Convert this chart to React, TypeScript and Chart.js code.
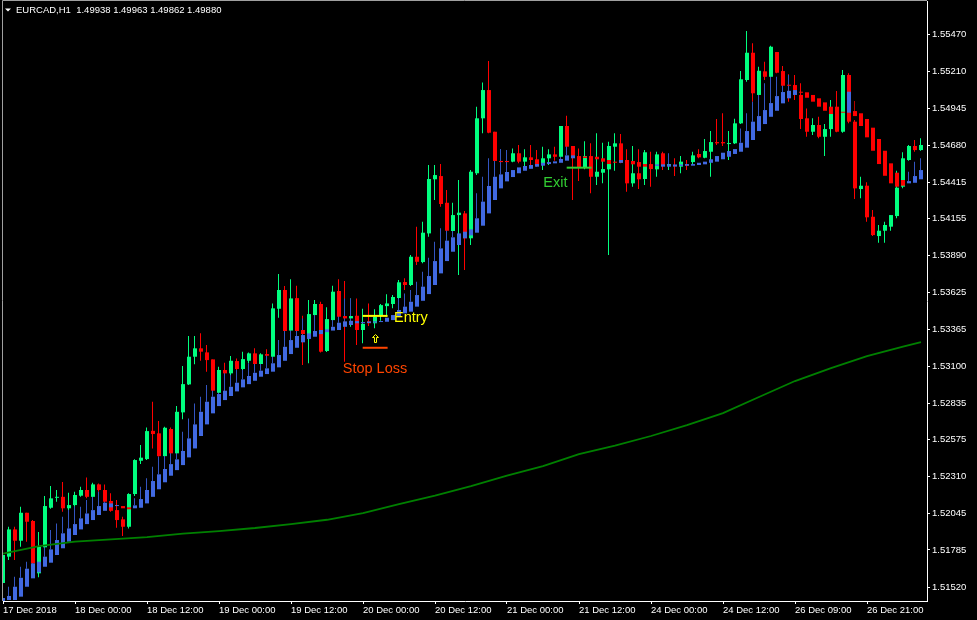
import React, { useEffect, useRef } from "react";
import { Chart, registerables } from "chart.js";

Chart.register(...registerables);

const symbolTitle = "EURCAD,H1  1.49938 1.49963 1.49862 1.49880";

const timeLabels = [
  "17 Dec 2018", "18 Dec 00:00", "18 Dec 12:00", "19 Dec 00:00", "19 Dec 12:00",
  "20 Dec 00:00", "20 Dec 12:00", "21 Dec 00:00", "21 Dec 12:00", "24 Dec 00:00",
  "24 Dec 12:00", "26 Dec 09:00", "26 Dec 21:00",
];
const timeLabelBars = [0, 12, 24, 36, 48, 60, 72, 84, 96, 108, 120, 132, 144];

const priceTicks = [
  1.5547, 1.5521, 1.54945, 1.5468, 1.54415, 1.54155, 1.5389, 1.53625,
  1.53365, 1.531, 1.52835, 1.52575, 1.5231, 1.52045, 1.51785, 1.5152,
];

const open = [
  1.51548,1.51737,1.51932,1.51851,1.52051,1.51992,1.51618,1.51804,1.52087,1.52158,
  1.52165,1.52083,1.52106,1.52173,1.52214,1.52165,1.52254,1.52214,1.52135,1.52070,
  1.52004,1.51951,1.52185,1.52423,1.52435,1.52637,1.52619,1.52456,1.52650,1.52476,
  1.52769,1.52969,1.53167,1.53227,1.53198,1.53148,1.52909,1.53072,1.53048,1.53136,
  1.53079,1.53138,1.53191,1.53115,1.53186,1.53167,1.53510,1.53644,1.53354,1.53586,
  1.53358,1.53322,1.53465,1.53544,1.53208,1.53429,1.53637,1.53458,1.53441,1.53460,
  1.53358,1.53420,1.53406,1.53460,1.53529,1.53544,1.53587,1.53701,1.53680,1.53882,
  1.53844,1.54049,1.54436,1.54459,1.54268,1.54066,1.54180,1.54192,1.54014,1.54479,
  1.54872,1.55074,1.54776,1.54567,1.54567,1.54562,1.54622,1.54562,1.54593,1.54579,
  1.54538,1.54586,1.54614,1.54597,1.54817,1.54674,1.54597,1.54521,1.54602,1.54454,
  1.54483,1.54507,1.54669,1.54693,1.54574,1.54407,1.54479,1.54438,1.54543,1.54507,
  1.54622,1.54534,1.54538,1.54526,1.54538,1.54559,1.54617,1.54590,1.54633,1.54702,
  1.54702,1.54688,1.54693,1.54836,1.55146,1.55341,1.55039,1.55208,1.55169,1.55346,
  1.55210,1.55110,1.55110,1.55039,1.54872,1.54776,1.54824,1.54740,1.54795,1.54955,
  1.54776,1.55182,1.54848,1.54366,1.54390,1.54168,1.54030,1.54068,1.54097,1.54173,
  1.54383,1.54574,1.54674,1.54645,
];
const high = [
  1.51763,1.51951,1.51951,1.52094,1.52051,1.51999,1.51913,1.52171,1.52242,1.52214,
  1.52271,1.52195,1.52202,1.52237,1.52304,1.52266,1.52261,1.52254,1.52190,1.52142,
  1.52023,1.52190,1.52433,1.52535,1.52661,1.52845,1.52707,1.52666,1.52661,1.52814,
  1.53100,1.53315,1.53315,1.53334,1.53251,1.53148,1.53095,1.53124,1.53172,1.53155,
  1.53203,1.53198,1.53227,1.53191,1.53220,1.53548,1.53758,1.53673,1.53721,1.53675,
  1.53460,1.53572,1.53572,1.53560,1.53520,1.53675,1.53721,1.53708,1.53584,1.53584,
  1.53510,1.53548,1.53506,1.53544,1.53613,1.53608,1.53715,1.53728,1.53894,1.54097,
  1.54132,1.54538,1.54538,1.54545,1.54359,1.54268,1.54431,1.54209,1.54502,1.54955,
  1.55129,1.55282,1.54776,1.54645,1.54645,1.54657,1.54681,1.54650,1.54681,1.54645,
  1.54669,1.54650,1.54669,1.54817,1.54891,1.54674,1.54657,1.54708,1.54693,1.54765,
  1.54697,1.54705,1.54765,1.54760,1.54650,1.54674,1.54650,1.54645,1.54633,1.54633,
  1.54633,1.54602,1.54586,1.54602,1.54574,1.54633,1.54650,1.54724,1.54781,1.54867,
  1.54908,1.54781,1.54869,1.55210,1.55496,1.55408,1.55241,1.55277,1.55391,1.55346,
  1.55246,1.55187,1.55182,1.55122,1.54943,1.54872,1.54884,1.54831,1.55003,1.55067,
  1.55217,1.55194,1.54860,1.54454,1.54414,1.54216,1.54109,1.54132,1.54180,1.54497,
  1.54629,1.54681,1.54717,1.54729,
];
const low = [
  1.51484,1.51713,1.51713,1.51808,1.51844,1.51677,1.51589,1.51784,1.52080,1.52130,
  1.52058,1.52058,1.52094,1.52165,1.52154,1.52154,1.52202,1.52125,1.52058,1.51944,
  1.51885,1.51939,1.52171,1.52399,1.52428,1.52511,1.52451,1.52451,1.52469,1.52471,
  1.52719,1.52964,1.53113,1.53138,1.53060,1.52905,1.52905,1.52857,1.53036,1.53072,
  1.53072,1.53120,1.53108,1.53108,1.53108,1.53163,1.53445,1.53346,1.53346,1.53346,
  1.53108,1.53120,1.53334,1.53198,1.53200,1.53424,1.53449,1.53131,1.53381,1.53251,
  1.53263,1.53386,1.53370,1.53424,1.53453,1.53513,1.53525,1.53644,1.53673,1.53823,
  1.53835,1.54025,1.54288,1.54240,1.54061,1.54061,1.53751,1.53787,1.53966,1.54467,
  1.54765,1.54765,1.54562,1.54550,1.54552,1.54557,1.54550,1.54526,1.54514,1.54526,
  1.54502,1.54538,1.54569,1.54586,1.54669,1.54288,1.54423,1.54507,1.54336,1.54395,
  1.54407,1.53894,1.54497,1.54550,1.54347,1.54383,1.54366,1.54395,1.54383,1.54454,
  1.54502,1.54502,1.54459,1.54479,1.54502,1.54538,1.54586,1.54586,1.54454,1.54681,
  1.54674,1.54574,1.54688,1.54831,1.55134,1.54991,1.55031,1.55146,1.55122,1.55194,
  1.55098,1.54991,1.55003,1.54795,1.54740,1.54753,1.54729,1.54602,1.54740,1.54772,
  1.54769,1.54836,1.54295,1.54300,1.54132,1.54030,1.53982,1.53982,1.54068,1.54157,
  1.54371,1.54569,1.54633,1.54640,
];
const close = [
  1.51749,1.51932,1.51851,1.52051,1.51987,1.51689,1.51808,1.52099,1.52154,1.52165,
  1.52083,1.52106,1.52178,1.52214,1.52165,1.52254,1.52214,1.52130,1.52065,1.51999,
  1.51951,1.52185,1.52428,1.52445,1.52635,1.52614,1.52456,1.52659,1.52476,1.52773,
  1.52971,1.53167,1.53227,1.53203,1.53143,1.52924,1.53072,1.53048,1.53138,1.53079,
  1.53150,1.53191,1.53115,1.53184,1.53174,1.53513,1.53644,1.53351,1.53584,1.53351,
  1.53329,1.53472,1.53544,1.53203,1.53436,1.53632,1.53453,1.53441,1.53458,1.53358,
  1.53401,1.53406,1.53453,1.53536,1.53548,1.53594,1.53699,1.53680,1.53882,1.53846,
  1.54054,1.54438,1.54466,1.54259,1.54068,1.54180,1.54197,1.54014,1.54490,1.54872,
  1.55074,1.54769,1.54567,1.54559,1.54559,1.54622,1.54562,1.54593,1.54574,1.54531,
  1.54586,1.54614,1.54597,1.54817,1.54669,1.54597,1.54521,1.54602,1.54454,1.54490,
  1.54509,1.54674,1.54693,1.54554,1.54407,1.54479,1.54436,1.54629,1.54509,1.54614,
  1.54533,1.54545,1.54529,1.54562,1.54533,1.54607,1.54593,1.54638,1.54702,1.54693,
  1.54693,1.54695,1.54836,1.55151,1.55341,1.55051,1.55212,1.55169,1.55384,1.55198,
  1.55105,1.55105,1.55074,1.54867,1.54776,1.54824,1.54740,1.54795,1.54903,1.54776,
  1.55182,1.54848,1.54371,1.54390,1.54164,1.54037,1.54068,1.54109,1.54180,1.54376,
  1.54586,1.54674,1.54645,1.54681,
];

const haOpen = [
  1.51413,1.51427,1.51427,1.51451,1.51522,1.51582,1.51625,1.51665,1.51694,1.51749,
  1.51797,1.51844,1.51892,1.51932,1.51970,1.51999,1.52035,1.52065,1.52090,1.52099,
  1.52099,1.52090,1.52083,1.52087,1.52118,1.52165,1.52219,1.52269,1.52316,1.52356,
  1.52392,1.52447,1.52511,1.52600,1.52683,1.52762,1.52814,1.52857,1.52886,1.52919,
  1.52948,1.52971,1.52995,1.53024,1.53043,1.53060,1.53091,1.53138,1.53186,1.53231,
  1.53270,1.53294,1.53310,1.53329,1.53343,1.53354,1.53358,1.53381,1.53394,1.53406,
  1.53406,1.53408,1.53411,1.53415,1.53417,1.53429,1.53453,1.53477,1.53489,1.53525,
  1.53567,1.53615,1.53680,1.53763,1.53851,1.53918,1.53966,1.54014,1.54035,1.54054,
  1.54104,1.54192,1.54288,1.54371,1.54421,1.54452,1.54479,1.54497,1.54511,1.54526,
  1.54533,1.54545,1.54550,1.54554,1.54569,1.54586,1.54602,1.54599,1.54595,1.54597,
  1.54586,1.54574,1.54562,1.54554,1.54567,1.54567,1.54559,1.54545,1.54543,1.54531,
  1.54526,1.54526,1.54527,1.54531,1.54533,1.54533,1.54538,1.54543,1.54554,1.54562,
  1.54579,1.54597,1.54617,1.54633,1.54662,1.54717,1.54781,1.54831,1.54883,1.54926,
  1.54979,1.55015,1.55039,1.55062,1.55058,1.55039,1.55015,1.54986,1.54955,1.54931,
  1.54919,1.54912,1.54924,1.54908,1.54867,1.54805,1.54724,1.54640,1.54550,1.54483,
  1.54431,1.54407,1.54411,1.54436,
];
const haClose = [
  1.51441,1.51456,1.51522,1.51586,1.51651,1.51689,1.51701,1.51737,1.51789,1.51856,
  1.51904,1.51939,1.51970,1.52011,1.52046,1.52070,1.52099,1.52123,1.52118,1.52106,
  1.52083,1.52076,1.52104,1.52149,1.52214,1.52278,1.52326,1.52364,1.52399,1.52433,
  1.52493,1.52583,1.52683,1.52773,1.52845,1.52881,1.52900,1.52924,1.52952,1.52981,
  1.53005,1.53029,1.53052,1.53067,1.53084,1.53120,1.53179,1.53238,1.53286,1.53315,
  1.53322,1.53334,1.53351,1.53358,1.53363,1.53381,1.53410,1.53420,1.53424,1.53422,
  1.53415,1.53419,1.53420,1.53422,1.53446,1.53465,1.53501,1.53525,1.53560,1.53608,
  1.53668,1.53744,1.53851,1.53942,1.53997,1.54021,1.54049,1.54061,1.54078,1.54157,
  1.54276,1.54388,1.54454,1.54471,1.54488,1.54502,1.54521,1.54531,1.54538,1.54545,
  1.54554,1.54559,1.54564,1.54581,1.54607,1.54607,1.54592,1.54588,1.54581,1.54579,
  1.54562,1.54545,1.54554,1.54574,1.54545,1.54543,1.54526,1.54526,1.54527,1.54543,
  1.54543,1.54543,1.54542,1.54542,1.54545,1.54545,1.54554,1.54562,1.54579,1.54602,
  1.54626,1.54638,1.54652,1.54697,1.54781,1.54848,1.54888,1.54931,1.54981,1.55031,
  1.55060,1.55069,1.55074,1.55055,1.55019,1.54991,1.54955,1.54926,1.54903,1.54883,
  1.54912,1.55062,1.54888,1.54817,1.54736,1.54640,1.54545,1.54461,1.54407,1.54383,
  1.54390,1.54423,1.54459,1.54502,
];
const haHigh = [
  1.51498,1.51522,1.51594,1.51665,1.51701,1.51749,1.51808,1.51856,1.51927,1.51975,
  1.52023,1.52070,1.52094,1.52094,1.52142,1.52190,1.52202,1.52190,null,null,
  null,null,1.52154,1.52237,1.52297,1.52380,1.52451,1.52488,1.52511,1.52547,
  1.52631,1.52726,1.52833,1.52881,1.52964,1.53012,1.53048,1.53072,1.53036,1.53072,
  1.53072,1.53120,1.53143,1.53167,1.53179,1.53215,1.53286,1.53406,1.53429,1.53453,
  1.53441,null,1.53501,null,null,1.53525,1.53548,1.53584,1.53584,null,
  null,null,null,null,null,null,1.53584,1.53620,1.53644,1.53703,
  1.53775,1.53875,1.53989,1.54085,1.54132,1.54168,null,null,null,1.54336,
  1.54454,1.54586,1.54645,1.54652,1.54645,null,null,null,null,null,
  null,null,null,1.54669,1.54693,null,null,null,null,null,
  null,null,null,null,null,null,null,null,null,null,
  1.54622,1.54622,null,null,null,null,null,null,null,null,
  null,null,null,1.54800,1.54908,1.54991,1.55074,1.55122,1.55182,1.55169,
  1.55189,1.55182,null,null,null,null,null,null,null,null,
  null,null,1.54996,null,null,null,null,null,null,null,
  null,1.54490,1.54562,1.54586,
];

const maBars = [0, 6, 12, 18, 24, 30, 36, 42, 48, 54, 60, 66, 72, 78, 84, 90, 96, 102, 108, 114, 120, 126, 132, 138, 144, 150, 153];
const maValues = [
  1.51758, 1.51813, 1.51845, 1.5186, 1.51877, 1.51902, 1.5192, 1.51942, 1.5197, 1.52001,
  1.52049, 1.52113, 1.52174, 1.52242, 1.52317, 1.52385, 1.52471, 1.52532, 1.526, 1.52678,
  1.52764, 1.52879, 1.52993, 1.53086, 1.53172, 1.5324, 1.53272,
];

// trade annotations (bar index / price)
const entryBars = [59.95, 64.1];
const entryPrice = 1.53459;
const stopBars = [59.95, 64.1];
const stopPrice = 1.53231;
const exitBars = [93.95, 98.1];
const exitPrice = 1.54519;
const arrowBar = 62;
const arrowPrice = 1.53304;
const noteTexts = ["Entry", "Stop Loss", "Exit"];
const noteBars = [65.17, 56.62, 90.05];
const notePrices = [1.53417, 1.53048, 1.54383];

const FONT = "'Liberation Sans', Arial, sans-serif";
const BULL = "#00ff7f";
const BEAR = "#ff0000";
const HA_BULL = "#4169e1";
const HA_BEAR = "#ff0000";
const HA_BULL_WICK = "#3355c0";
const HA_BEAR_WICK = "#b00000";
const ENTRY_C = "#ffff00";
const STOP_C = "#ff4500";
const EXIT_C = "#32cd32";
const noteColors = [ENTRY_C, STOP_C, EXIT_C];

export default function App() {
  const ref = useRef<HTMLCanvasElement>(null);

  useEffect(() => {
    document.body.style.margin = "0";
    document.body.style.background = "#000";
    const canvas = ref.current;
    if (!canvas) return;

    const idx = open.map((_, i) => i);
    const bodyData = idx.map((i) => ({ x: i, y: [open[i], close[i]] }));
    const bodyColors = idx.map((i) => (close[i] >= open[i] ? BULL : BEAR));
    const wickData = idx.map((i) => ({ x: i, y: [low[i], high[i]] }));
    const haBodyData = idx.map((i) => ({ x: i, y: [haOpen[i], haClose[i]] }));
    const haColors = idx.map((i) => (haClose[i] >= haOpen[i] ? HA_BULL : HA_BEAR));
    const haWickIdx = idx.filter((i) => haHigh[i] !== null);
    const haWickData = haWickIdx.map((i) => ({
      x: i,
      y: [Math.max(haOpen[i], haClose[i]), haHigh[i] as number],
    }));
    const haWickColors = haWickIdx.map((i) => (haClose[i] >= haOpen[i] ? HA_BULL_WICK : HA_BEAR_WICK));
    const maData = maBars.map((b, k) => ({ x: b, y: maValues[k] }));

    const barCommon = {
      type: "bar" as const,
      grouped: false,
      borderWidth: 0,
      borderSkipped: false,
      inflateAmount: 0,
    };

    const lineCommon = {
      type: "line" as const,
      pointRadius: 0,
      tension: 0,
      fill: false,
      borderCapStyle: "butt" as const,
    };

    const datasets: any[] = [
      { ...lineCommon, label: "entry", data: entryBars.map((b) => ({ x: b, y: entryPrice })), borderColor: ENTRY_C, borderWidth: 2, order: 0 },
      { ...lineCommon, label: "stop", data: stopBars.map((b) => ({ x: b, y: stopPrice })), borderColor: STOP_C, borderWidth: 2, order: 0 },
      { ...lineCommon, label: "exit", data: exitBars.map((b) => ({ x: b, y: exitPrice })), borderColor: EXIT_C, borderWidth: 2, order: 0 },
      { ...lineCommon, label: "ma", data: maData, borderColor: "#008000", borderWidth: 1.8, order: 1 },
      { ...barCommon, label: "haBody", data: haBodyData, backgroundColor: haColors, barThickness: 4, minBarLength: 1, order: 2 },
      { ...barCommon, label: "body", data: bodyData, backgroundColor: bodyColors, barThickness: 4, minBarLength: 1, order: 3 },
      { ...barCommon, label: "haWick", data: haWickData, backgroundColor: haWickColors, barThickness: 1, order: 4 },
      { ...barCommon, label: "wick", data: wickData, backgroundColor: bodyColors, barThickness: 1, order: 5 },
    ];
    const wickLabels = new Set(["haWick", "wick"]);

    const decor = {
      id: "decor",
      beforeDatasetDraw(chart: any, args: any) {
        const ds = chart.data.datasets[args.index];
        if (wickLabels.has(ds.label)) {
          chart.ctx.save();
          chart.ctx.translate(-0.5, 0);
        }
      },
      afterDatasetDraw(chart: any, args: any) {
        const ds = chart.data.datasets[args.index];
        if (wickLabels.has(ds.label)) chart.ctx.restore();
      },
      afterDraw(chart: any) {
        const { ctx, chartArea: a } = chart;
        const xs = chart.scales.x;
        const ys = chart.scales.y;
        ctx.save();
        // frame (left / top)
        ctx.strokeStyle = "#a0a0a0";
        ctx.lineWidth = 1;
        ctx.beginPath();
        ctx.moveTo(a.left - 0.5, a.bottom);
        ctx.lineTo(a.left - 0.5, a.top - 0.5);
        ctx.lineTo(a.right, a.top - 0.5);
        ctx.stroke();

        // title
        ctx.fillStyle = "#ffffff";
        ctx.beginPath();
        ctx.moveTo(5, 8.5);
        ctx.lineTo(11, 8.5);
        ctx.lineTo(8, 11.5);
        ctx.closePath();
        ctx.fill();
        ctx.font = `9.5px ${FONT}`;
        ctx.textAlign = "left";
        ctx.textBaseline = "alphabetic";
        ctx.fillText(symbolTitle, 16, 12.7);

        // up arrow marker
        const ax = Math.round(xs.getPixelForValue(arrowBar)) + 0.5;
        const ay = Math.round(ys.getPixelForValue(arrowPrice)) + 0.5;
        ctx.strokeStyle = ENTRY_C;
        ctx.lineWidth = 1;
        ctx.beginPath();
        ctx.moveTo(ax, ay - 4);
        ctx.lineTo(ax + 3, ay - 1);
        ctx.lineTo(ax + 1, ay - 1);
        ctx.lineTo(ax + 1, ay + 4);
        ctx.lineTo(ax - 1, ay + 4);
        ctx.lineTo(ax - 1, ay - 1);
        ctx.lineTo(ax - 3, ay - 1);
        ctx.closePath();
        ctx.stroke();

        // notes
        ctx.font = `14.5px ${FONT}`;
        noteTexts.forEach((t, k) => {
          ctx.fillStyle = noteColors[k];
          ctx.fillText(t, xs.getPixelForValue(noteBars[k]), ys.getPixelForValue(notePrices[k]));
        });
        ctx.restore();
      },
    };

    const chart = new Chart(canvas, {
      type: "bar",
      data: { datasets },
      plugins: [decor],
      options: {
        animation: false,
        responsive: false,
        devicePixelRatio: 1,
        events: [],
        layout: { padding: { left: 3, top: 1, right: 0, bottom: 0 } },
        plugins: { legend: { display: false }, tooltip: { enabled: false } },
        scales: {
          x: {
            type: "linear",
            position: "bottom",
            offset: false,
            min: 0,
            max: 154,
            afterBuildTicks: (s: any) => {
              s.ticks = timeLabelBars.map((v) => ({ value: v }));
            },
            afterFit: (s: any) => {
              s.height = 19;
              s.paddingLeft = 0;
              s.paddingRight = 0;
            },
            ticks: {
              autoSkip: false,
              maxRotation: 0,
              minRotation: 0,
              align: "start",
              color: "#ffffff",
              padding: 1,
              font: { family: FONT, size: 9.5 },
              callback: (v: any) => {
                const k = timeLabelBars.indexOf(Number(v));
                return k >= 0 ? timeLabels[k] : "";
              },
            },
            grid: { display: true, offset: false, drawOnChartArea: false, drawTicks: true, tickLength: 3, color: "#ffffff", lineWidth: 1 },
            border: { display: true, color: "#ffffff", width: 1 },
          },
          y: {
            type: "linear",
            position: "right",
            min: 1.5142,
            max: 1.55711,
            afterBuildTicks: (s: any) => {
              s.ticks = priceTicks.map((v) => ({ value: v }));
            },
            afterFit: (s: any) => {
              s.width = 50;
              s.paddingTop = 0;
              s.paddingBottom = 0;
            },
            ticks: {
              autoSkip: false,
              color: "#ffffff",
              padding: 2,
              font: { family: FONT, size: 9.5 },
              callback: (v: any) => Number(v).toFixed(5),
            },
            grid: { display: true, drawOnChartArea: false, drawTicks: true, tickLength: 3, color: "#ffffff", lineWidth: 1 },
            border: { display: true, color: "#ffffff", width: 1 },
          },
        },
      } as any,
    });

    return () => chart.destroy();
  }, []);

  return (
    <canvas
      ref={ref}
      width={977}
      height={620}
      style={{ display: "block", background: "#000", width: 977, height: 620 }}
    />
  );
}
